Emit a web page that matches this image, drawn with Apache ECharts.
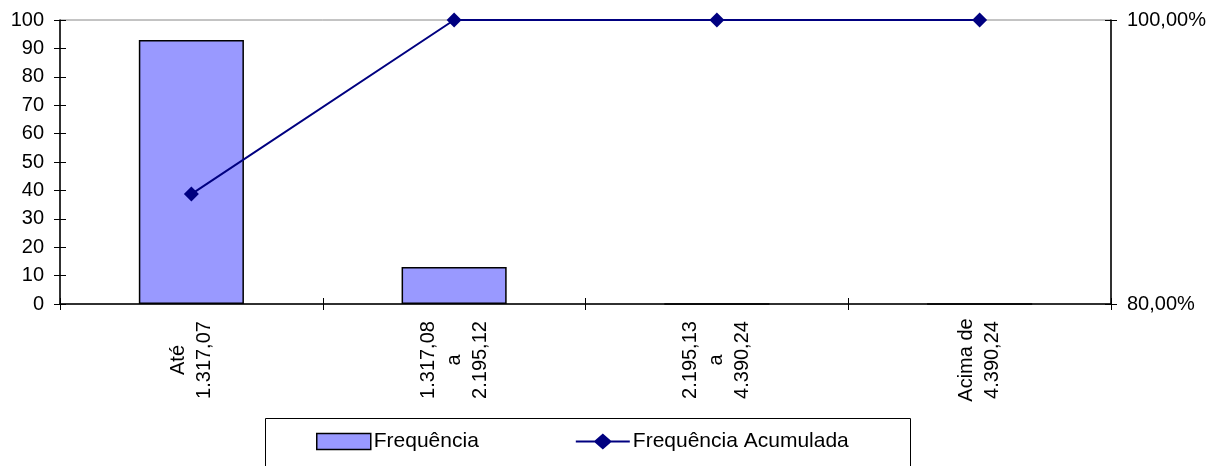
<!DOCTYPE html>
<html>
<head>
<meta charset="utf-8">
<script src="https://cdn.jsdelivr.net/npm/echarts@6/dist/echarts.min.js"></script>
<style>html,body{margin:0;padding:0;background:#fff}#c{width:1228px;height:466px}</style>
</head>
<body>
<div id="c"></div>
<script>
var categories = ['Até\n1.317,07', '1.317,08\na\n2.195,12', '2.195,13\na\n4.390,24', 'Acima de\n4.390,24'];
var frequencia = [93, 13, 0, 0];
var acumulada = [87.74, 100, 100, 100];
var seriesNames = ['Frequência', 'Frequência Acumulada'];

var FONT = 'Liberation Sans, Arial, sans-serif';
var chart = echarts.init(document.getElementById('c'));
function pct(v){ return v.toFixed(2).replace('.', ',') + '%'; }
var tickStyle = {color: '#000', width: 1};
chart.setOption({
  animation: false,
  textStyle: {fontFamily: FONT},
  grid: {left: 60, right: 117, top: 20, bottom: 162, show: true, borderColor: '#888', borderWidth: 1, backgroundColor: 'transparent'},
  graphic: [{type: 'rect', shape: {x: 265.5, y: 418.5, width: 645, height: 60}, style: {fill: 'none', stroke: '#000', lineWidth: 1}, z: -1}],
  legend: {
    left: 316, top: 431, padding: 0, itemGap: 97, itemWidth: 54, itemHeight: 16,
    textStyle: {fontSize: 21, color: '#000', fontFamily: FONT, padding: [0,0,0,-2]},
    data: [
      {name: seriesNames[0], icon: 'rect', itemStyle: {borderColor: '#000', borderWidth: 1.5}},
      {name: seriesNames[1], icon: 'path://M0,7L19,7L27,0L35,7L54,7L54,9L35,9L27,16L19,9L0,9Z', itemStyle: {color: '#000080', borderWidth: 0}}
    ]
  },
  xAxis: [{
    type: 'category', data: categories, position: 'bottom',
    axisLine: {onZero: false, lineStyle: {color: '#000', width: 1.5}},
    axisTick: {show: true, length: 6, lineStyle: tickStyle},
    axisLabel: {rotate: 90, align: 'center', verticalAlign: 'middle', margin: 56, fontSize: 20, color: '#000', lineHeight: 26, fontFamily: FONT},
    splitLine: {show: false}
  }, {
    type: 'category', data: categories, position: 'bottom',
    axisLine: {show: false, onZero: false},
    axisTick: {show: true, inside: true, length: 6, lineStyle: tickStyle},
    axisLabel: {show: false}, splitLine: {show: false}
  }],
  yAxis: [{
    type: 'value', position: 'left', min: 0, max: 100, interval: 10,
    axisLine: {show: true, lineStyle: {color: '#000', width: 1.5}},
    axisTick: {show: true, length: 6, lineStyle: tickStyle},
    axisLabel: {fontSize: 20, color: '#000', margin: 16, fontFamily: FONT},
    splitLine: {show: false}
  }, {
    type: 'value', position: 'right', min: 80, max: 100, interval: 20,
    axisLine: {show: true, lineStyle: {color: '#000', width: 1.5}},
    axisTick: {show: true, length: 6, lineStyle: tickStyle},
    axisLabel: {fontSize: 20, color: '#000', margin: 16, formatter: pct, fontFamily: FONT},
    splitLine: {show: false}
  }, {
    type: 'value', position: 'left', min: 0, max: 100, interval: 10, offset: 0,
    axisLine: {show: false}, axisTick: {show: true, inside: true, length: 6, lineStyle: tickStyle},
    axisLabel: {show: false}, splitLine: {show: false}
  }, {
    type: 'value', position: 'right', min: 80, max: 100, interval: 20, offset: 0,
    axisLine: {show: false}, axisTick: {show: true, inside: true, length: 6, lineStyle: tickStyle},
    axisLabel: {show: false}, splitLine: {show: false}
  }],
  series: [{
    name: seriesNames[0], type: 'bar', data: frequencia, barWidth: '40%',
    itemStyle: {color: '#9999FF', borderColor: '#000', borderWidth: 1.5}
  }, {
    name: seriesNames[1], type: 'line', yAxisIndex: 1, data: acumulada,
    symbol: 'diamond', symbolSize: 15,
    itemStyle: {color: '#000080'}, lineStyle: {color: '#000080', width: 2}
  }]
});
</script>
</body>
</html>
